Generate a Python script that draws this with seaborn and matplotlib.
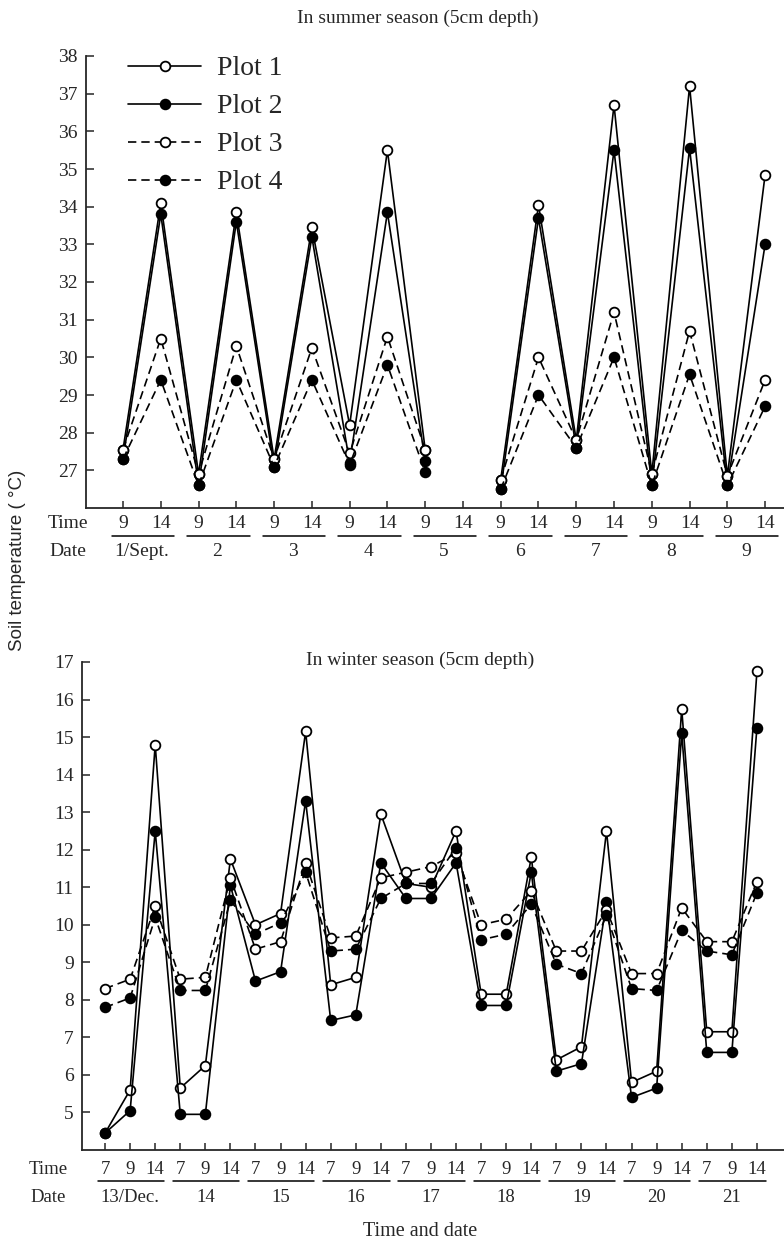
import numpy as np
import pandas as pd
import matplotlib
matplotlib.use("Agg")
import matplotlib.pyplot as plt
import matplotlib.transforms as mtransforms
import seaborn as sns

# summer: readings at 9 and 14 h, 1-9 Sept (14 h on the 5th missing)
summer_times = [9, 14] * 9
summer_dates = ['1/Sept.', '2', '3', '4', '5', '6', '7', '8', '9']
summer_plot1 = [27.55, 34.1, 26.9, 33.85, 27.3, 33.45, 28.2, 35.5, 27.55, np.nan,
                26.75, 34.05, 27.8, 36.7, 26.9, 37.2, 26.85, 34.85]
summer_plot2 = [27.3, 33.8, 26.6, 33.6, 27.1, 33.2, 27.2, 33.85, 27.25, np.nan,
                26.5, 33.7, 27.6, 35.5, 26.6, 35.55, 26.6, 33.0]
summer_plot3 = [27.55, 30.5, 26.9, 30.3, 27.3, 30.25, 27.45, 30.55, 27.55, np.nan,
                26.75, 30.0, 27.8, 31.2, 26.9, 30.7, 26.85, 29.4]
summer_plot4 = [27.3, 29.4, 26.6, 29.4, 27.1, 29.4, 27.15, 29.8, 26.95, np.nan,
                26.5, 29.0, 27.6, 30.0, 26.6, 29.55, 26.6, 28.7]

# winter: readings at 7, 9 and 14 h, 13-21 Dec
winter_times = [7, 9, 14] * 9
winter_dates = ['13/Dec.', '14', '15', '16', '17', '18', '19', '20', '21']
winter_plot1 = [4.45, 5.6, 14.8, 5.65, 6.25, 11.75, 10.0, 10.3, 15.15, 8.4, 8.6, 12.95,
                11.1, 11.0, 12.5, 8.15, 8.15, 11.8, 6.4, 6.75, 12.5, 5.8, 6.1, 15.75,
                7.15, 7.15, 16.75]
winter_plot2 = [4.45, 5.05, 12.5, 4.95, 4.95, 11.05, 8.5, 8.75, 13.3, 7.45, 7.6, 11.65,
                10.7, 10.7, 11.65, 7.85, 7.85, 11.4, 6.1, 6.3, 10.6, 5.4, 5.65, 15.1,
                6.6, 6.6, 15.25]
winter_plot3 = [8.3, 8.55, 10.5, 8.55, 8.6, 11.25, 9.35, 9.55, 11.65, 9.65, 9.7, 11.25,
                11.4, 11.55, 11.9, 10.0, 10.15, 10.9, 9.3, 9.3, 10.4, 8.7, 8.7, 10.45,
                9.55, 9.55, 11.15]
winter_plot4 = [7.8, 8.05, 10.2, 8.25, 8.25, 10.65, 9.75, 10.05, 11.4, 9.3, 9.35, 10.7,
                11.1, 11.1, 12.05, 9.6, 9.75, 10.55, 8.95, 8.7, 10.25, 8.3, 8.25, 9.85,
                9.3, 9.2, 10.85]

plot_names = ['Plot 1', 'Plot 2', 'Plot 3', 'Plot 4']
styles = {
    'Plot 1': dict(markerfacecolor='white', linestyle='-'),
    'Plot 2': dict(markerfacecolor='black', linestyle='-'),
    'Plot 3': dict(markerfacecolor='white', linestyle=(0, (5, 3))),
    'Plot 4': dict(markerfacecolor='black', linestyle=(0, (5, 3))),
}

W, H = 784, 1244


def long_form(series):
    rows = []
    for name, vals in zip(plot_names, series):
        seg = 0
        for i, v in enumerate(vals):
            if np.isnan(v):
                seg += 1
                continue
            rows.append({'pos': i, 'temp': v, 'plot': name, 'seg': seg})
    return pd.DataFrame(rows)


def draw_lines(ax, df, with_label):
    for name in plot_names:
        sub = df[df['plot'] == name]
        sns.lineplot(data=sub, x='pos', y='temp', units='seg', estimator=None, ax=ax,
                     color='black', linewidth=1.2, marker='o', markersize=7,
                     markeredgecolor='black', markeredgewidth=1.3,
                     label=name if with_label else None, **styles[name])


def axis_rows(fig, ax, times, dates, per_day, y_time, y_line, y_date, x_lab, fs):
    trans = mtransforms.blended_transform_factory(ax.transData, fig.transFigure)
    fy = lambda p: 1 - p / H
    for i, t in enumerate(times):
        ax.text(i, fy(y_time), str(t), transform=trans, ha='center', va='center',
                fontsize=fs)
    for d, lab in enumerate(dates):
        a = d * per_day
        b = a + per_day - 1
        ax.plot([a - 0.3, b + 0.35], [fy(y_line)] * 2, transform=trans, color='black',
                lw=1.1, clip_on=False)
        ax.text((a + b) / 2, fy(y_date), lab, transform=trans, ha='center', va='center',
                fontsize=fs)
    fig.text(x_lab / W, fy(y_time), 'Time', ha='center', va='center', fontsize=fs)
    fig.text(x_lab / W, fy(y_date), 'Date', ha='center', va='center', fontsize=fs)


sns.set_style('ticks')
plt.rcParams['font.family'] = ['Liberation Serif', 'DejaVu Serif']

fig = plt.figure(figsize=(W / 100, H / 100), dpi=100)

# summer panel
ax1 = fig.add_axes([86 / W, 1 - 508 / H, (W - 86) / W, (508 - 56) / H])
draw_lines(ax1, long_form([summer_plot1, summer_plot2, summer_plot3, summer_plot4]), True)
ax1.set_xlim(-0.98, 17.5)
ax1.set_ylim(26, 38)
ax1.set_yticks(range(27, 39))
ax1.set_xticks(range(len(summer_times)))
ax1.set_xticklabels([])
ax1.set_xlabel('')
ax1.set_ylabel('')
handles, labels = ax1.get_legend_handles_labels()
uniq = dict(zip(labels, handles))
ax1.legend(uniq.values(), uniq.keys(), loc='upper left', bbox_to_anchor=(0.06, 1.0),
           frameon=False, fontsize=20, handlelength=2.65, handletextpad=0.55,
           labelspacing=0.45, borderpad=0, borderaxespad=0)
axis_rows(fig, ax1, summer_times, summer_dates, 2, 524, 536, 552, 68, 14)
fig.text(418 / W, 1 - 18 / H, 'In summer season (5cm depth)', ha='center', va='center',
         fontsize=14)

# winter panel
ax2 = fig.add_axes([82 / W, 1 - 1150 / H, (W - 82) / W, (1150 - 662) / H])
draw_lines(ax2, long_form([winter_plot1, winter_plot2, winter_plot3, winter_plot4]), False)
ax2.set_xlim(-0.92, 27.08)
ax2.set_ylim(4, 17)
ax2.set_yticks(range(5, 18))
ax2.set_xticks(range(len(winter_times)))
ax2.set_xticklabels([])
ax2.set_xlabel('')
ax2.set_ylabel('')
if ax2.get_legend():
    ax2.get_legend().remove()
axis_rows(fig, ax2, winter_times, winter_dates, 3, 1169, 1181, 1197, 48, 13.5)
fig.text(420 / W, 1 - 660 / H, 'In winter season (5cm depth)', ha='center', va='center',
         fontsize=14)
fig.text(420 / W, 1 - 1232 / H, 'Time and date', ha='center', va='center', fontsize=14.5)

for ax in (ax1, ax2):
    sns.despine(ax=ax)
    ax.spines['left'].set_linewidth(1.3)
    ax.spines['bottom'].set_linewidth(1.3)
    ax.tick_params(direction='in', length=6, width=1.1, labelsize=14, pad=6)
    ax.tick_params(axis='x', length=5)

fig.text(18 / W, 1 - 560 / H, 'Soil temperature ( °C)', rotation=90, ha='center',
         va='center', fontsize=13.5, family=['Liberation Sans', 'DejaVu Sans'])

fig.savefig('out.png', dpi=100)
